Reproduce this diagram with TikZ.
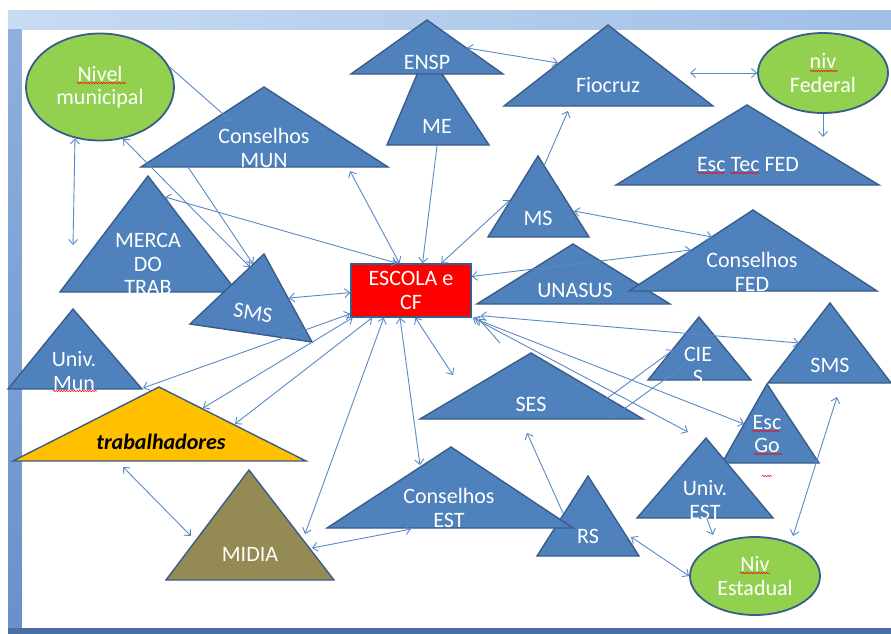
\documentclass[tikz,border=0pt]{standalone}
\usepackage{fontspec}
\setmainfont{Carlito}
\usetikzlibrary{arrows.meta,shapes.geometric,decorations.pathmorphing}
\definecolor{accent}{HTML}{4F81BD}
\definecolor{outline}{HTML}{385D8A}
\definecolor{linkblue}{HTML}{5A8AC6}
\definecolor{lvlgreen}{HTML}{92D050}
\definecolor{trabgold}{HTML}{FFC000}
\definecolor{midiaolive}{HTML}{948A54}
\definecolor{framelight}{HTML}{C9DBF2}
\definecolor{frametop}{HTML}{A0BEE6}
\definecolor{frameleft}{HTML}{6890CA}
\definecolor{framebot}{HTML}{4A6EA8}
\newcommand{\tri}[4][accent]{\filldraw[tri,fill=#1] #2 -- #3 -- #4 -- cycle;}
\begin{document}
\begin{tikzpicture}[x=1pt,y=-1pt]
	\tikzstyle{tri}=[draw=outline,line width=1.4pt,line join=miter]
	\tikzstyle{lbl}=[text=white,font=\fontsize{22}{23.5}\selectfont,align=center,inner sep=0pt]
	\tikzset{
		level/.style={ellipse,draw=outline,fill=lvlgreen,line width=1.8pt,lbl},
		link/.style={draw=linkblue,line width=0.9pt},
		both/.style={link,{Straight Barb[length=5pt,width=9pt]}-{Straight Barb[length=5pt,width=9pt]}},
		one/.style={link,-{Straight Barb[length=5pt,width=9pt]}},
		spell/.style={draw=red,line width=0.5pt,decorate,decoration={snake,amplitude=0.7pt,segment length=2.6pt}}
	}
	\useasboundingbox (0,0) rectangle (891,634);
	\fill[white] (0,0) rectangle (891,634);
	\shade[left color=framelight,right color=frametop] (8,11) rectangle (891,30);
	\shade[top color=frametop!70!frameleft,bottom color=frameleft] (8,30) rectangle (22,634);
	\fill[framebot] (8,628) rectangle (891,634);
	\fill[white] (22,30) rectangle (891,628);
	\tri{(427,51)}{(387,145)}{(489,145)}
	\node[lbl] (me) at (437,126) {ME};
	\tri{(427,20)}{(351,74)}{(503,74)}
	\node[lbl] (ensp) at (427,62) {ENSP};
	\tri{(608,25)}{(504,106)}{(713,106)}
	\node[lbl] (fio) at (608,85) {Fiocruz};
	\tri{(747,105)}{(616,185)}{(879,185)}
	\node[lbl] (esctec) at (748,165) {Esc Tec FED};
	\tri{(264,87)}{(141,167)}{(388,167)}
	\node[lbl] (cmun) at (264,148) {Conselhos\\MUN};
	\tri{(148,176)}{(60,292)}{(237,292)}
	\node[lbl] (merc) at (148,264) {MERCA\\DO\\TRAB};
	\tri{(264,254)}{(190,324)}{(312,342)}
	\node[lbl,rotate=-9] (smsl) at (253,313) {SMS};
	\tri{(73,309)}{(8,389)}{(142,389)}
	\node[lbl] (univm) at (74,371) {Univ.\\Mun};
	\tri[trabgold]{(159,387)}{(13,461)}{(306,461)}
	\node[lbl,text=black,font=\fontsize{22}{23.5}\selectfont\bfseries\itshape] (trab) at (161,442) {trabalhadores};
	\tri[midiaolive]{(249,470)}{(166,580)}{(334,580)}
	\node[lbl] (midia) at (250,554) {MIDIA};
	\tri{(588,476)}{(537,556)}{(639,556)}
	\node[lbl] (rs) at (588,536) {RS};
	\tri{(451,447)}{(327,528)}{(573,528)}
	\node[lbl] (cest) at (449,508) {Conselhos\\EST};
	\tri{(531,353)}{(420,419)}{(643,419)}
	\node[lbl] (ses) at (531,404) {SES};
	\tri{(699,317)}{(648,380)}{(751,380)}
	\node[lbl] (cies) at (698,366) {CIE\\S};
	\tri{(830,303)}{(768,383)}{(891,383)}
	\node[lbl] (smsr) at (830,365) {SMS};
	\tri{(767,384)}{(722,463)}{(819,463)}
	\node[lbl] (escgo) at (767,434) {Esc\\Go};
	\tri{(706,438)}{(637,518)}{(773,518)}
	\node[lbl] (univest) at (705,500) {Univ.\\EST};
	\tri{(538,156)}{(488,237)}{(589,237)}
	\node[lbl] (ms) at (538,218) {MS};
	\tri{(573,244)}{(477,304)}{(670,304)}
	\node[lbl] (unasus) at (575,290) {UNASUS};
	\tri{(753,210)}{(629,291)}{(877,291)}
	\node[lbl] (cfed) at (752,272) {Conselhos\\FED};
	\node[level,minimum width=148pt,minimum height=107pt] (nmun) at (100,87) {Nivel\\municipal};
	\node[level,minimum width=130pt,minimum height=80pt] (nfed) at (823,73) {niv\\Federal};
	\node[level,minimum width=130pt,minimum height=78pt] (nest) at (755,576) {Niv\\Estadual};
	\node[lbl,draw=outline,fill=red,line width=1.4pt,minimum width=120pt,minimum height=53pt] (esc) at (411,290.5) {ESCOLA e\\CF};
	\draw[spell] (77,83) -- (126,83);
	\draw[spell] (810,71) -- (838,71);
	\draw[spell] (697,173) -- (725,173);
	\draw[spell] (730,173) -- (759,173);
	\draw[spell] (53,391) -- (97,391);
	\draw[spell] (752,431) -- (780,431);
	\draw[spell] (754,454) -- (782,454);
	\draw[spell] (762,476) -- (772,476);
	\draw[spell] (740,573) -- (770,573);
	\coordinate (f1) at (73,245);
	\coordinate (f2) at (453,375);
	\coordinate (f3) at (688,432);
	\coordinate (f4) at (500,343);
	\coordinate (f5) at (527,433);
	\coordinate (f6) at (713,535);
	\coordinate (f7) at (837,397);
	\coordinate (f8) at (793,536);
	\coordinate (fio-c) at (690,73);
	\coordinate (esctec-a) at (823,137);
	\coordinate (cmun-a) at (231,121);
	\coordinate (cmun-b) at (188,167);
	\coordinate (cmun-c) at (350,171);
	\coordinate (smsl-a) at (250,267);
	\coordinate (smsl-b) at (253,264);
	\coordinate (smsl-c) at (289,298);
	\coordinate (merc-a) at (165,197);
	\coordinate (me-a) at (437,146);
	\coordinate (ms-a) at (510,200);
	\coordinate (ms-b) at (544,166);
	\coordinate (ms-c) at (574,211);
	\coordinate (fio-a) at (568,111);
	\coordinate (fio-b) at (558,63);
	\coordinate (ensp-a) at (467,48);
	\coordinate (cfed-a) at (712,237);
	\coordinate (cfed-b) at (691,250);
	\coordinate (trab-a) at (143,388);
	\coordinate (trab-b) at (203,408);
	\coordinate (trab-c) at (235,424);
	\coordinate (trab-d) at (123,467);
	\coordinate (midia-a) at (305,534);
	\coordinate (midia-b) at (312,548);
	\coordinate (midia-c) at (191,536);
	\coordinate (cest-a) at (420,465);
	\coordinate (cest-b) at (411,529);
	\coordinate (smsr-a) at (799,343);
	\coordinate (escgo-a) at (744,424);
	\coordinate (ses-a) at (598,405);
	\coordinate (ses-b) at (613,417);
	\coordinate (cies-a) at (673,350);
	\coordinate (cies-b) at (686,364);
	\coordinate (rs-a) at (563,513);
	\coordinate (rs-b) at (631,537);
	\coordinate (univest-a) at (707,519);
	\draw[both] (nmun.244) -- (f1);
	\draw[both] (nmun.294) -- (smsl-a);
	\draw[one] (nmun.16) -- (cmun-a);
	\draw[one] (cmun-b) -- (smsl-b);
	\draw[both] (merc-a) -- (esc.117);
	\draw[both] (cmun-c) -- (esc.113);
	\draw[one] (me-a) -- (esc.67);
	\draw[both] (ms-a) -- (esc.42);
	\draw[one] (ms-b) -- (fio-a);
	\draw[both] (ensp-a) -- (fio-b);
	\draw[both] (fio-c) -- (nfed.west);
	\draw[one] (nfed.south) -- (esctec-a);
	\draw[both] (ms-c) -- (cfed-a);
	\draw[both] (esc.13) -- (cfed-b);
	\draw[both] (smsl-c) -- (esc.182);
	\draw[both] (trab-a) -- (esc.201);
	\draw[both] (trab-b) -- (esc.205);
	\draw[both] (trab-c) -- (esc.215);
	\draw[both] (esc.225) -- (midia-a);
	\draw[both] (esc.248) -- (cest-a);
	\draw[both] (esc.279) -- (f2);
	\draw[both] (midia-b) -- (cest-b);
	\draw[both] (trab-d) -- (midia-c);
	\draw[both] ([xshift=9pt,yshift=2pt]esc.south east) -- (smsr-a);
	\draw[both] ([xshift=3pt,yshift=-1pt]esc.south east) -- (escgo-a);
	\draw[both] ([xshift=1pt]esc.south east) -- (f3);
	\draw[one] (f4) -- ([xshift=7pt,yshift=-1pt]esc.south east);
	\draw[one] (ses-a) -- (cies-a);
	\draw[link] (ses-b) -- (cies-b);
	\draw[one] (rs-a) -- (f5);
	\draw[both] (rs-b) -- (nest.west);
	\draw[one] (univest-a) -- (f6);
	\draw[both] (f7) -- (f8);
\end{tikzpicture}
\end{document}
